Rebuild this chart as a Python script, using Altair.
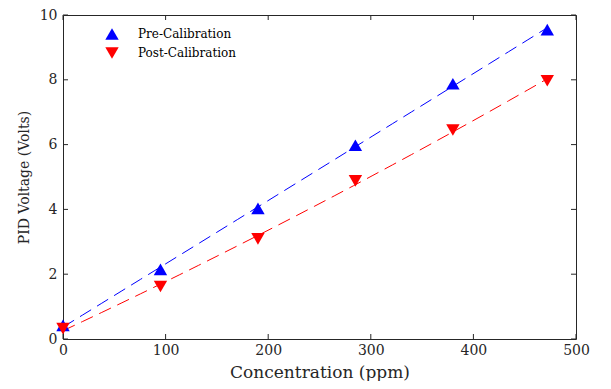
import altair as alt
import pandas as pd

conc = [0, 95, 190, 285, 380, 472]
pre_cal = [0.42, 2.15, 4.03, 5.98, 7.88, 9.55]
post_cal = [0.32, 1.62, 3.09, 4.88, 6.45, 7.97]
series_names = ["Pre-Calibration", "Post-Calibration"]
series_colors = ["#0000ff", "#ff0000"]
x_ticks = [0, 100, 200, 300, 400, 500]
y_ticks = [0, 2, 4, 6, 8, 10]

df = pd.DataFrame({
    "conc": conc * 2,
    "volt": pre_cal + post_cal,
    "series": [series_names[0]] * len(conc) + [series_names[1]] * len(conc),
})
xt = pd.DataFrame({"t": x_ticks})
yt = pd.DataFrame({"t": y_ticks})

W, H = 513, 324
FONT = "DejaVu Serif"
TXT = "#262626"

xs = alt.Scale(domain=[0, 500], nice=False)
ys = alt.Scale(domain=[0, 10], nice=False)
col = alt.Scale(domain=series_names, range=series_colors)
shp = alt.Scale(domain=series_names, range=["triangle-up", "triangle-down"])

base = alt.Chart(df)

fits = []
for name, c in zip(series_names, series_colors):
    fits.append(
        base.transform_filter(alt.datum.series == name)
        .transform_regression("conc", "volt", method="poly", order=2, extent=[0, 472])
        .mark_line(strokeDash=[13, 7], strokeWidth=1, color=c)
        .encode(
            x=alt.X("conc:Q", scale=xs,
                    axis=alt.Axis(title="Concentration (ppm)", values=x_ticks,
                                  labelPadding=4, titlePadding=7, titleFontSize=17)),
            y=alt.Y("volt:Q", scale=ys,
                    axis=alt.Axis(title="PID Voltage (Volts)", values=y_ticks,
                                  labelPadding=6, titlePadding=8, titleFontSize=14)),
        )
    )

leg = alt.Legend(title=None, orient="none", legendX=42, legendY=12, padding=0,
                 labelFont=FONT, labelFontSize=12, labelColor="#000",
                 symbolSize=180, symbolStrokeWidth=0, labelOffset=19, rowPadding=6)

pts = base.mark_point(filled=True, size=180, opacity=1).encode(
    x=alt.X("conc:Q", scale=xs),
    y=alt.Y("volt:Q", scale=ys),
    color=alt.Color("series:N", scale=col, legend=leg),
    shape=alt.Shape("series:N", scale=shp, legend=leg),
)

tick_len = 5
xb = alt.Chart(xt).mark_rule(color=TXT, strokeWidth=1).encode(
    x=alt.X("t:Q", scale=xs), y=alt.value(H), y2=alt.value(H - tick_len))
xtp = alt.Chart(xt).mark_rule(color=TXT, strokeWidth=1).encode(
    x=alt.X("t:Q", scale=xs), y=alt.value(0), y2=alt.value(tick_len))
yl = alt.Chart(yt).mark_rule(color=TXT, strokeWidth=1).encode(
    y=alt.Y("t:Q", scale=ys), x=alt.value(0), x2=alt.value(tick_len))
yr = alt.Chart(yt).mark_rule(color=TXT, strokeWidth=1).encode(
    y=alt.Y("t:Q", scale=ys), x=alt.value(W), x2=alt.value(W - tick_len))

chart = alt.layer(*fits, pts, xb, xtp, yl, yr).properties(
    width=W, height=H,
    background="white",
    autosize=alt.AutoSizeParams(type="none"),
    padding={"left": 55, "top": 7, "right": 27, "bottom": 42},
).configure_view(stroke=TXT, strokeWidth=1).configure_axis(
    ticks=False, domain=False, grid=False, labelFlush=False,
    labelFont=FONT, labelFontSize=14, labelColor=TXT,
    titleFont=FONT, titleFontWeight="normal", titleColor=TXT,
).configure_legend(
    labelFont=FONT, labelFontSize=12, labelColor="#000",
)

chart.save("out.html", embed_options={"renderer": "svg", "actions": False})
